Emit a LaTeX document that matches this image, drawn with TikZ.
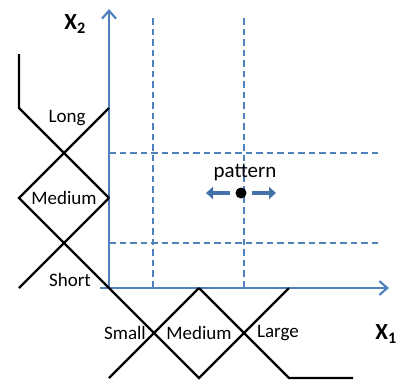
\documentclass[tikz,border=0pt]{standalone}
\usepackage{fontspec}
\setmainfont{Carlito}
\usepackage{xcolor}
\usetikzlibrary{arrows.meta}
\definecolor{axisblue}{HTML}{4F81BD}
\definecolor{movblue}{HTML}{4472A8}

\begin{document}
\begin{tikzpicture}[
  x=1pt,y=-1pt,
  font=\fontsize{19}{22}\selectfont,
  axis/.style={draw=axisblue,line width=2.2pt,-{Straight Barb[length=8pt,width=14pt,line width=2.2pt]}},
  grid/.style={draw=axisblue,line width=2.2pt,dash pattern=on 6.5pt off 4pt},
  mf/.style={draw=black,line width=2.2pt,line join=miter},
  lbl/.style={inner sep=0pt,text=black},
  axlbl/.style={inner sep=0pt,font=\fontsize{23}{26}\selectfont\bfseries},
  dot/.style={circle,fill=black,minimum size=11pt,inner sep=0pt},
  move/.style={draw=movblue,line width=4.5pt,-{Triangle[length=7pt,width=12pt]}}
]
\useasboundingbox (0,0) rectangle (403,381);

% axes
\coordinate (O) at (109,288);
\coordinate (xs) at (100,288);
\coordinate (xe) at (389,288);
\coordinate (ye) at (109,9);

% grid lines
\draw[grid] (153,18) -- (153,288);
\draw[grid] (244,18) -- (244,288);
\draw[grid] (109,153) -- (380,153);
\draw[grid] (109,243) -- (380,243);

\draw[axis] (O) -- (ye);
\draw[axis] (xs) -- (xe);

% membership functions of x2
\draw[mf] (19,54) -- (19,108) -- (109,198);
\draw[mf] (109,108) -- (19,198) -- (109,288);
\draw[mf] (19,288) -- (109,198);

% membership functions of x1
\draw[mf] (109,378) -- (199,288);
\draw[mf] (109,288) -- (199,378) -- (289,288);
\draw[mf] (199,288) -- (289,378) -- (353,378);

% labels
\node[lbl] (long) at (67,118) {Long};
\node[lbl] (med2) at (64,198) {Medium};
\node[lbl] (short) at (70,280) {Short};
\node[lbl] (small) at (125,333) {Small};
\node[lbl] (med1) at (199,333) {Medium};
\node[lbl] (large) at (278,333) {Large};
\node[axlbl] (x2) at (75,24) {X\textsubscript{2}};
\node[axlbl] (x1) at (386,334) {X\textsubscript{1}};

% pattern
\node[dot] (pat) at (241,193) {};
\node[lbl,font=\fontsize{21}{24}\selectfont] (patlbl) at (245,173) {pattern};
\coordinate (lt) at (230,193);
\coordinate (lh) at (206,193);
\coordinate (rt) at (252,193);
\coordinate (rh) at (276,193);
\draw[move] (lt) -- (lh);
\draw[move] (rt) -- (rh);
\end{tikzpicture}
\end{document}
